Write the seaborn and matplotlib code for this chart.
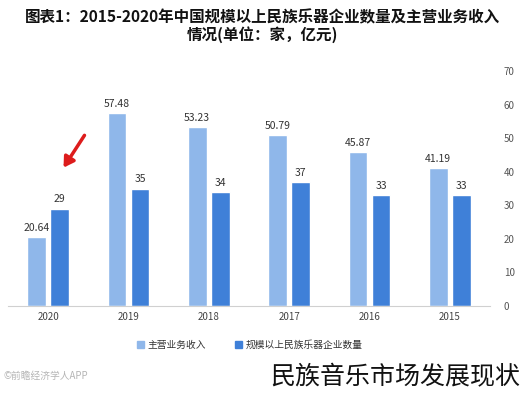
import matplotlib
matplotlib.use("Agg")
import matplotlib.pyplot as plt
import seaborn as sns
import pandas as pd

years = ["2015", "2016", "2017", "2018", "2019", "2020"]
enterprises = [33, 33, 37, 34, 35, 29]
revenue = [41.19, 45.87, 50.79, 53.23, 57.48, 20.64]
series_names = ["规模以上民族乐器企业数量", "主营业务收入"]
y_ticks = [0, 10, 20, 30, 40, 50, 60, 70]

sns.set_theme(style="white")
plt.rcParams["font.family"] = ["Noto Sans CJK SC", "DejaVu Sans"]

df = pd.DataFrame({
    "年份": years * 2,
    "数值": enterprises + revenue,
    "系列": [series_names[0]] * len(years) + [series_names[1]] * len(years),
})

fig = plt.figure(figsize=(5.23, 3.94), dpi=100)
ax = fig.add_axes([8 / 523, 1 - 306 / 394, (490 - 8) / 523, (306 - 71) / 394])

palette = {series_names[0]: "#3f80d8", series_names[1]: "#8fb7ea"}
sns.barplot(data=df, x="年份", y="数值", hue="系列", order=years,
            hue_order=series_names, palette=palette, width=0.58, gap=0.2,
            saturation=1, ax=ax, legend=False)

ax.invert_xaxis()
ax.set_ylim(0, 70)
ax.set_yticks(y_ticks)
ax.yaxis.tick_right()
ax.tick_params(axis="y", length=0, labelsize=7, colors="#555555", pad=10)
ax.tick_params(axis="x", length=0, labelsize=7, colors="#444444", pad=4)
ax.set_xlabel("")
ax.set_ylabel("")
for s in ["top", "left", "right"]:
    ax.spines[s].set_visible(False)
ax.spines["bottom"].set_color("#d0d0d0")
ax.spines["bottom"].set_linewidth(0.8)

def fmt(v):
    return f"{v:g}"

for cont in ax.containers:
    ax.bar_label(cont, labels=[fmt(b.get_height()) for b in cont],
                 fontsize=7.5, color="#333333", padding=3)

from matplotlib.patches import Patch
handles = [Patch(color=palette[series_names[1]], label=series_names[1]),
           Patch(color=palette[series_names[0]], label=series_names[0])]
fig.legend(handles=handles, loc="center", bbox_to_anchor=(250 / 523, 1 - 345 / 394),
           ncol=2, frameon=False, fontsize=7, handlelength=0.7, handleheight=0.7,
           columnspacing=3, handletextpad=0.4, labelcolor="#333333")

fig.text(262 / 523, 1 - 17 / 394, "图表1：2015-2020年中国规模以上民族乐器企业数量及主营业务收入",
         ha="center", va="center", fontsize=11.2, fontweight="bold", color="#111111")
fig.text(262 / 523, 1 - 35 / 394, "情况(单位：家，亿元)",
         ha="center", va="center", fontsize=11.2, fontweight="bold", color="#111111")

ax.annotate("", xy=(62, 394 - 170), xycoords="figure pixels",
            xytext=(86, 394 - 133), textcoords="figure pixels",
            arrowprops=dict(arrowstyle="-|>,head_length=0.5,head_width=0.3",
                            color="#dd1c1c", lw=2.5))

fig.text(3 / 523, 1 - 376 / 394, "©前瞻经济学人APP", ha="left", va="center",
         fontsize=7, color="#b5b5b5")
fig.text(520 / 523, 1 - 377 / 394, "民族音乐市场发展现状", ha="right", va="center",
         fontsize=18, color="#111111")

fig.savefig("out.png", dpi=100)
